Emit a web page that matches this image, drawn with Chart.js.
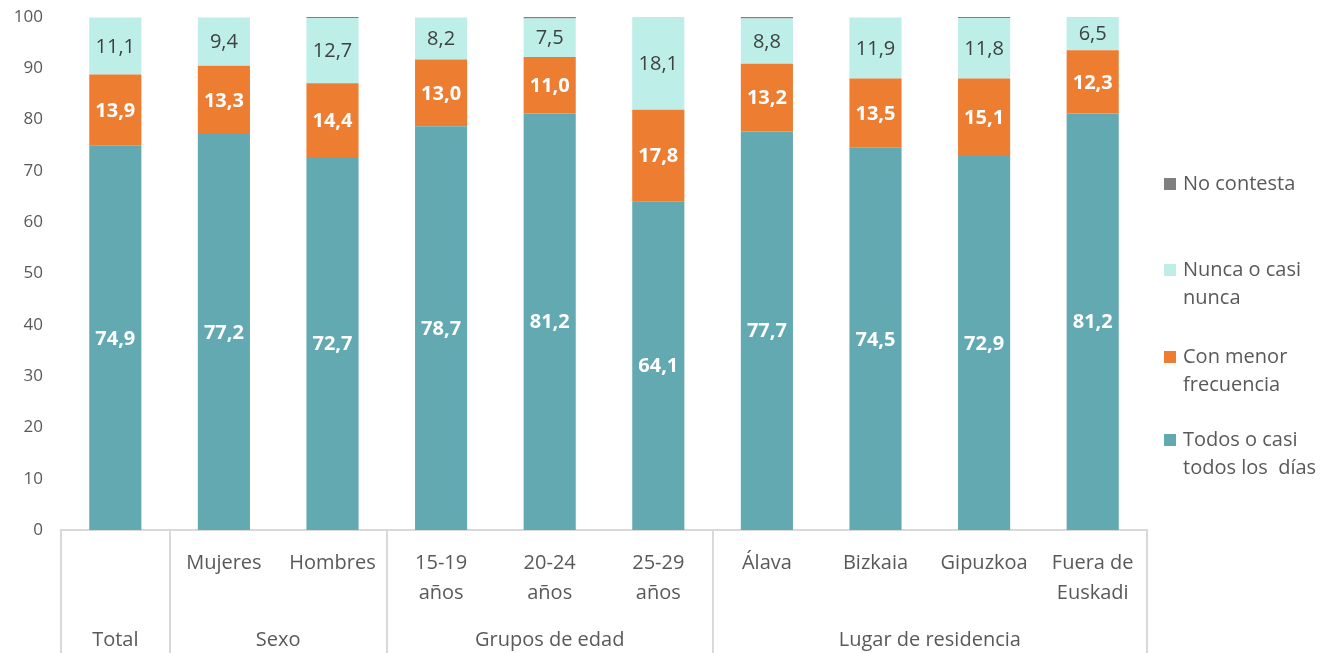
<!DOCTYPE html>
<html>
<head>
<meta charset="utf-8">
<script src="https://cdn.jsdelivr.net/npm/chart.js@4/dist/chart.umd.min.js"></script>
<style>
  html, body { margin: 0; padding: 0; background: #fff; }
  #wrap { width: 1328px; height: 653px; position: relative; }
</style>
</head>
<body>
<div id="wrap"><canvas id="grafico"></canvas></div>
<script>
// Datos (porcentajes)
const categorias = ['', 'Mujeres', 'Hombres', '15-19 años', '20-24 años', '25-29 años', 'Álava', 'Bizkaia', 'Gipuzkoa', 'Fuera de Euskadi'];
const etiquetasCat = [[''], ['Mujeres'], ['Hombres'], ['15-19', 'años'], ['20-24', 'años'], ['25-29', 'años'], ['Álava'], ['Bizkaia'], ['Gipuzkoa'], ['Fuera de', 'Euskadi']];
const grupos = ['Total', 'Sexo', 'Grupos de edad', 'Lugar de residencia'];
const gruposInicio = [0, 1, 3, 6];
const gruposFin = [0, 2, 5, 9];

const todosDias = [74.9, 77.2, 72.7, 78.7, 81.2, 64.1, 77.7, 74.5, 72.9, 81.2];
const menorFrec = [13.9, 13.3, 14.4, 13.0, 11.0, 17.8, 13.2, 13.5, 15.1, 12.3];
const nuncaCasi = [11.1, 9.4, 12.7, 8.2, 7.5, 18.1, 8.8, 11.9, 11.8, 6.5];
const noContesta = [0.0, 0.0, 0.2, 0.0, 0.3, 0.0, 0.3, 0.0, 0.2, 0.0];

const series = ['Todos o casi todos los  días', 'Con menor frecuencia', 'Nunca o casi nunca', 'No contesta'];
const leyendaLineas = [['Todos o casi', 'todos los  días'], ['Con menor', 'frecuencia'], ['Nunca o casi', 'nunca'], ['No contesta']];
const colores = ['#63A9B1', '#ED7D31', '#BDEFE8', '#808080'];

const yTicks = [0, 10, 20, 30, 40, 50, 60, 70, 80, 90, 100];

const FUENTE = "'Open Sans', sans-serif";
const GRIS_TEXTO = '#595959';
const GRIS_LINEA = '#D9D9D9';

// ============================
// PLUGIN: etiquetas de datos
// ============================
const etiquetasDatos = {
    id: 'etiquetasDatos',
    afterDatasetsDraw(chart) {
        const ctx = chart.ctx;
        ctx.save();
        ctx.textAlign = 'center';
        ctx.textBaseline = 'middle';
        [0, 1, 2].forEach(i => {
            const meta = chart.getDatasetMeta(i);
            const valores = chart.data.datasets[i].data;
            if (i < 2) {
                ctx.fillStyle = '#FFFFFF';
                ctx.font = "bold 20px " + FUENTE;
            } else {
                ctx.fillStyle = '#404040';
                ctx.font = "20px " + FUENTE;
            }
            meta.data.forEach((bar, j) => {
                const yc = (bar.y + bar.base) / 2;
                ctx.fillText(valores[j].toFixed(1).replace('.', ','), bar.x, yc + 1);
            });
        });
        ctx.restore();
    }
};

// ============================
// PLUGIN: eje X multinivel
// ============================
const ejeMultinivel = {
    id: 'ejeMultinivel',
    afterDraw(chart) {
        const ctx = chart.ctx;
        const x = chart.scales.x;
        const area = chart.chartArea;
        const paso = x.getPixelForValue(1) - x.getPixelForValue(0);
        ctx.save();

        // líneas separadoras
        ctx.strokeStyle = GRIS_LINEA;
        ctx.lineWidth = 2;
        const bordes = [gruposInicio[0]].concat(gruposFin.map(f => f + 1));
        bordes.forEach(b => {
            const px = Math.round(x.getPixelForValue(b) - paso / 2);
            ctx.beginPath();
            ctx.moveTo(px, area.bottom);
            ctx.lineTo(px, chart.height);
            ctx.stroke();
        });

        // categorías
        ctx.fillStyle = GRIS_TEXTO;
        ctx.font = "20px " + FUENTE;
        ctx.textAlign = 'center';
        ctx.textBaseline = 'middle';
        etiquetasCat.forEach((lineas, j) => {
            const px = x.getPixelForValue(j);
            lineas.forEach((t, k) => ctx.fillText(t, px, area.bottom + 33 + k * 30));
        });

        // grupos
        grupos.forEach((g, k) => {
            const a = x.getPixelForValue(gruposInicio[k]) - paso / 2;
            const b = x.getPixelForValue(gruposFin[k]) + paso / 2;
            ctx.fillText(g, (a + b) / 2, area.bottom + 110);
        });
        ctx.restore();
    }
};

// ============================
// PLUGIN: leyenda a la derecha
// ============================
const leyenda = {
    id: 'leyendaDerecha',
    afterDraw(chart) {
        const ctx = chart.ctx;
        const posY = [440, 357, 270, 184];
        ctx.save();
        ctx.font = "20px " + FUENTE;
        ctx.textAlign = 'left';
        ctx.textBaseline = 'middle';
        chart.data.datasets.forEach((ds, i) => {
            const y = posY[i];
            ctx.fillStyle = ds.backgroundColor;
            ctx.fillRect(1164, y - 6, 12, 12);
            ctx.fillStyle = GRIS_TEXTO;
            leyendaLineas[i].forEach((t, k) => ctx.fillText(t, 1183, y + k * 28));
        });
        ctx.restore();
    }
};

const ctx = document.getElementById('grafico').getContext('2d');
new Chart(ctx, {
    type: 'bar',
    data: {
        labels: categorias,
        datasets: [todosDias, menorFrec, nuncaCasi, noContesta].map((d, i) => ({
            label: series[i],
            data: d,
            backgroundColor: colores[i],
            borderWidth: 0,
            barPercentage: 0.48,
            categoryPercentage: 1
        }))
    },
    options: {
        responsive: true,
        maintainAspectRatio: false,
        animation: false,
        layout: { padding: { top: 17, right: 181, bottom: 0, left: 0 } },
        scales: {
            x: {
                stacked: true,
                grid: { display: false, drawTicks: false },
                border: { display: true, color: GRIS_LINEA, width: 2 },
                ticks: { display: false },
                afterFit(scale) { scale.height = 123; }
            },
            y: {
                stacked: true,
                min: 0,
                max: 100,
                grid: { display: false, drawTicks: false },
                border: { display: false },
                afterBuildTicks(scale) { scale.ticks = yTicks.map(v => ({ value: v })); },
                afterFit(scale) {
                    scale.width = 61;
                    // sin margen extra arriba/abajo por las etiquetas
                    scale.paddingTop = 0;
                    scale.paddingBottom = 0;
                },
                ticks: {
                    color: GRIS_TEXTO,
                    padding: 18,
                    font: { family: FUENTE, size: 17 }
                }
            }
        },
        plugins: {
            legend: { display: false },
            tooltip: { enabled: false }
        }
    },
    plugins: [etiquetasDatos, ejeMultinivel, leyenda]
});
</script>
</body>
</html>
